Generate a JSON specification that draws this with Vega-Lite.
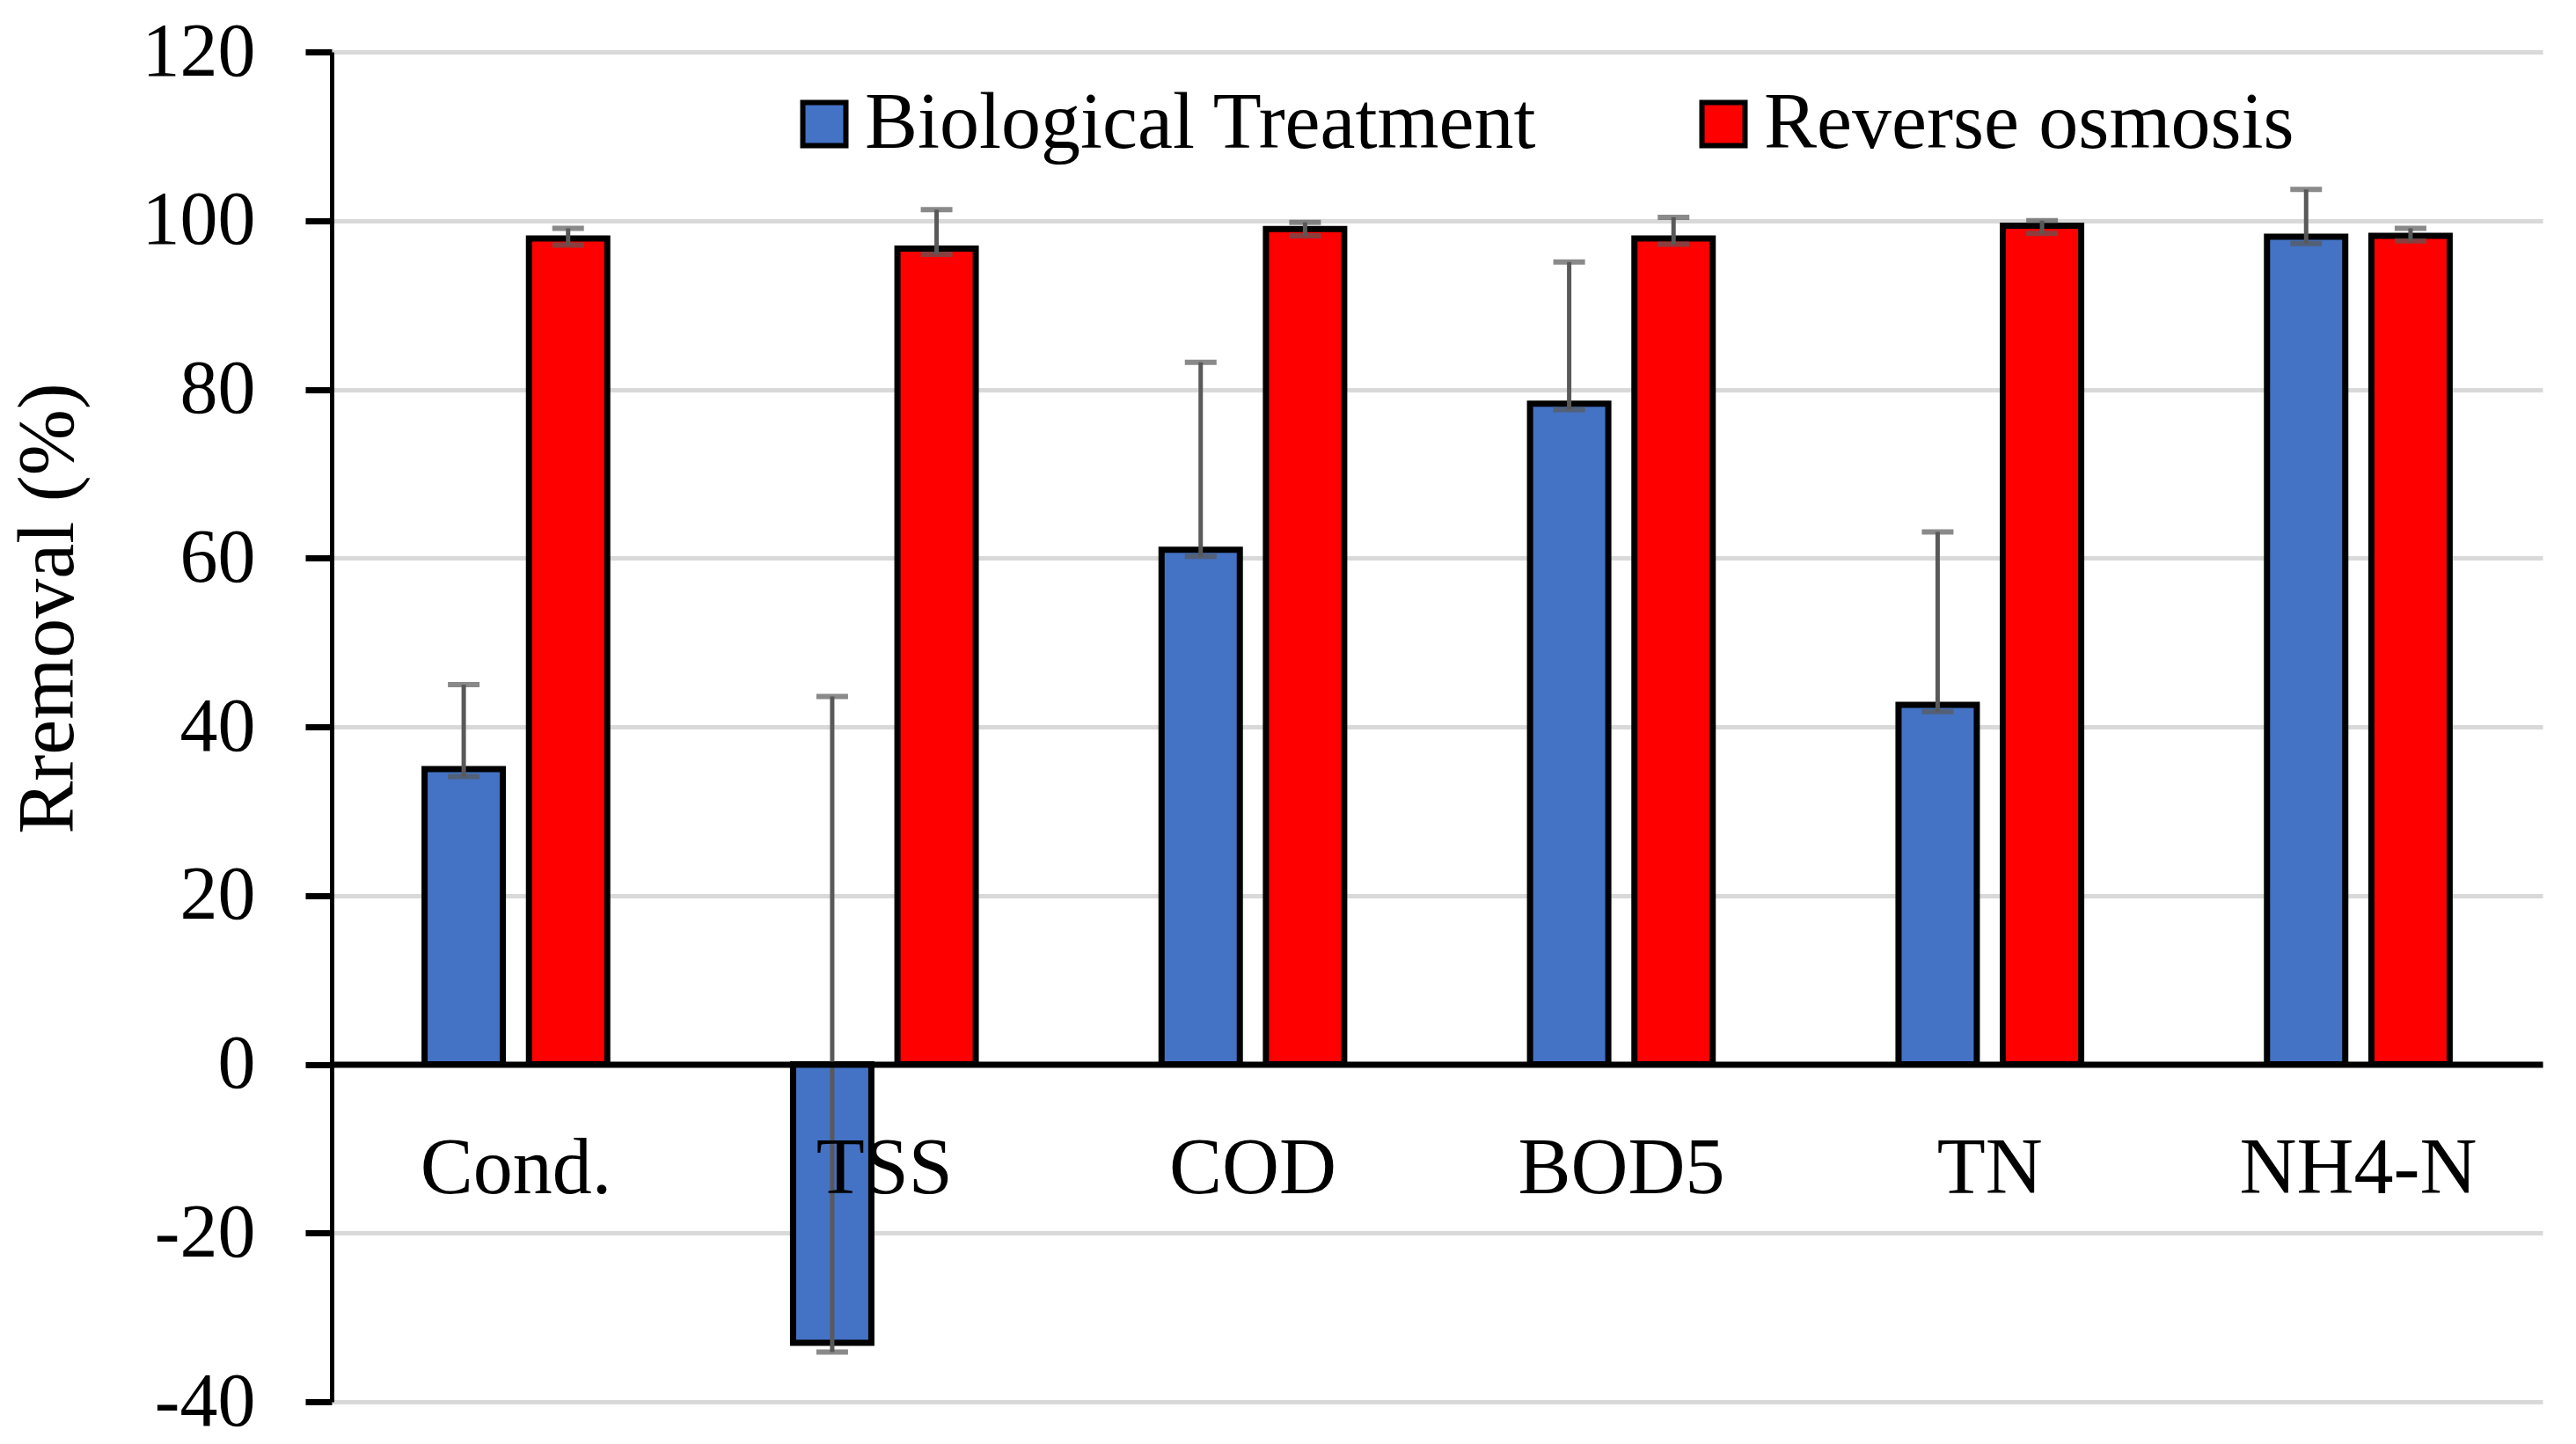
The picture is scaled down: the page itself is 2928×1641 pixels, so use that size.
{
  "$schema": "https://vega.github.io/schema/vega-lite/v6.json",
  "width": 2513,
  "height": 1534,
  "autosize": {"type": "none"},
  "padding": {"left": 377, "top": 59, "right": 38, "bottom": 48},
  "background": "white",
  "config": {"view": {"stroke": null}, "font": "Liberation Serif"},
  "data": {
    "values": [
      {"param": "Cond.", "series": "Biological Treatment", "value": 35.0, "lo": 34.1, "hi": 45.0},
      {"param": "Cond.", "series": "Reverse osmosis", "value": 97.9, "lo": 97.1, "hi": 99.1},
      {"param": "TSS", "series": "Biological Treatment", "value": -33.0, "lo": -34.1, "hi": 43.6},
      {"param": "TSS", "series": "Reverse osmosis", "value": 96.7, "lo": 96.0, "hi": 101.3},
      {"param": "COD", "series": "Biological Treatment", "value": 61.0, "lo": 60.2, "hi": 83.2},
      {"param": "COD", "series": "Reverse osmosis", "value": 99.0, "lo": 98.2, "hi": 99.8},
      {"param": "BOD5", "series": "Biological Treatment", "value": 78.3, "lo": 77.6, "hi": 95.1},
      {"param": "BOD5", "series": "Reverse osmosis", "value": 97.9, "lo": 97.2, "hi": 100.4},
      {"param": "TN", "series": "Biological Treatment", "value": 42.6, "lo": 41.8, "hi": 63.1},
      {"param": "TN", "series": "Reverse osmosis", "value": 99.4, "lo": 98.5, "hi": 100.0},
      {"param": "NH4-N", "series": "Biological Treatment", "value": 98.1, "lo": 97.3, "hi": 103.7},
      {"param": "NH4-N", "series": "Reverse osmosis", "value": 98.2, "lo": 97.6, "hi": 99.1}
    ]
  },
  "encoding": {
    "x": {
      "field": "param",
      "type": "nominal",
      "sort": ["Cond.", "TSS", "COD", "BOD5", "TN", "NH4-N"],
      "scale": {"paddingInner": 0, "paddingOuter": 0},
      "axis": {
        "title": null,
        "orient": "bottom",
        "offset": -383.5,
        "ticks": false,
        "labelAngle": 0,
        "labelFont": "Liberation Serif",
        "labelFontSize": 90,
        "labelColor": "black",
        "labelPadding": 146,
        "labelBaseline": "alphabetic",
        "labelLimit": 1000,
        "domainColor": "black",
        "domainWidth": 7,
        "grid": false,
        "zindex": 1
      }
    },
    "xOffset": {
      "field": "series",
      "type": "nominal",
      "sort": ["Biological Treatment", "Reverse osmosis"],
      "scale": {"paddingInner": 0.25, "paddingOuter": 0.89}
    }
  },
  "layer": [
    {
      "mark": {"type": "bar", "stroke": "black", "strokeWidth": 7},
      "encoding": {
        "y": {
          "field": "value",
          "type": "quantitative",
          "title": "Rremoval (%)",
          "scale": {"domain": [-40, 120], "nice": false},
          "axis": {
            "title": "Rremoval (%)",
            "values": [-40, -20, 0, 20, 40, 60, 80, 100, 120],
            "labelExpr": "toString(datum.value)",
            "labelFont": "Liberation Serif",
            "labelFontSize": 86,
            "labelColor": "black",
            "labelPadding": 57,
            "tickSize": 30,
            "tickWidth": 7,
            "tickColor": "black",
            "domainColor": "black",
            "domainWidth": 5,
            "gridColor": "#d9d9d9",
            "gridWidth": 5,
            "titleFont": "Liberation Serif",
            "titleFontSize": 90,
            "titleFontWeight": "normal",
            "titleColor": "black",
            "titleX": -295,
            "titleY": 632,
            "titleAngle": -90,
            "titleBaseline": "alphabetic",
            "titleAlign": "center"
          }
        },
        "color": {
          "field": "series",
          "type": "nominal",
          "scale": {"domain": ["Biological Treatment", "Reverse osmosis"], "range": ["#4472C4", "#FF0000"]},
          "legend": {
            "title": null,
            "orient": "none",
            "legendX": 515,
            "legendY": 37,
            "direction": "horizontal",
            "symbolType": "square",
            "symbolSize": 2400,
            "symbolStrokeColor": "black",
            "symbolStrokeWidth": 6,
            "symbolOpacity": 1,
            "labelFont": "Liberation Serif",
            "labelFontSize": 90,
            "labelColor": "black",
            "labelOffset": 1,
            "labelLimit": 2000,
            "columnPadding": 166,
            "padding": 0
          }
        }
      }
    },
    {
      "mark": {"type": "rule", "color": "#595959", "strokeWidth": 5},
      "encoding": {
        "y": {"field": "lo", "type": "quantitative", "title": "Rremoval (%)"},
        "y2": {"field": "hi"}
      }
    },
    {
      "mark": {"type": "tick", "color": "#595959", "thickness": 6, "size": 36, "orient": "horizontal"},
      "encoding": {
        "y": {"field": "hi", "type": "quantitative", "title": "Rremoval (%)"}
      }
    },
    {
      "mark": {"type": "tick", "color": "#595959", "thickness": 6, "size": 36, "orient": "horizontal"},
      "encoding": {
        "y": {"field": "lo", "type": "quantitative", "title": "Rremoval (%)"}
      }
    }
  ]
}
